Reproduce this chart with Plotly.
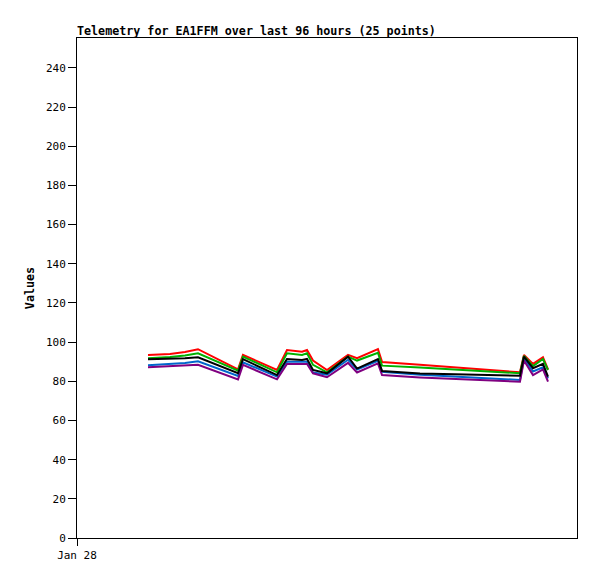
import plotly.graph_objects as go

times = [
    "2024-01-28 13:38", "2024-01-28 17:51", "2024-01-28 20:44", "2024-01-28 23:14",
    "2024-01-29 06:55", "2024-01-29 07:52", "2024-01-29 14:24", "2024-01-29 16:19",
    "2024-01-29 19:12", "2024-01-29 20:10", "2024-01-29 21:19", "2024-01-30 00:00",
    "2024-01-30 04:02", "2024-01-30 05:46", "2024-01-30 09:47", "2024-01-30 10:34",
    "2024-01-30 17:51", "2024-01-31 00:35", "2024-01-31 07:18", "2024-01-31 11:08",
    "2024-01-31 13:03", "2024-01-31 13:49", "2024-01-31 15:33", "2024-01-31 17:28",
    "2024-01-31 18:26",
]

red = [93.4, 94.0, 95.0, 96.4, 86.1, 93.5, 85.8, 96.0, 95.1, 96.0, 90.6, 85.8,
       93.5, 91.8, 96.4, 89.9, 88.4, 87.1, 85.7, 85.0, 84.6, 93.5, 88.9, 92.3, 86.1]
green = [91.8, 92.4, 93.2, 94.3, 85.4, 92.6, 84.6, 94.3, 93.5, 94.3, 88.4, 84.6,
         92.6, 90.6, 94.6, 88.0, 87.0, 86.0, 85.0, 84.4, 84.1, 93.0, 87.8, 91.4, 85.8]
black = [91.3, 91.4, 91.8, 92.3, 84.1, 91.3, 83.2, 91.4, 90.9, 91.4, 85.8, 84.1,
         92.6, 86.5, 91.3, 85.3, 84.0, 83.6, 83.2, 83.0, 82.9, 92.6, 86.7, 88.9, 82.4]
blue = [88.2, 88.7, 89.3, 90.2, 82.7, 89.7, 82.4, 90.0, 90.0, 90.0, 84.5, 83.4,
        91.0, 86.0, 90.5, 84.8, 83.3, 82.3, 81.5, 81.0, 80.7, 91.8, 85.0, 87.2, 81.5]
purple = [87.2, 87.8, 88.0, 88.4, 81.0, 88.4, 81.0, 88.9, 88.9, 88.9, 84.1, 82.1,
          89.4, 84.5, 89.2, 83.2, 82.0, 81.3, 80.5, 80.0, 79.8, 90.6, 83.2, 86.1, 79.8]

series = [
    ("red", red, "#ff0000"),
    ("green", green, "#00b000"),
    ("blue", blue, "#0066cc"),
    ("purple", purple, "#800080"),
    ("black", black, "#000000"),
]

y_ticks = list(range(0, 241, 20))
x_tick_vals = ["2024-01-28 00:00"]
x_tick_text = ["Jan 28"]
x_range = ["2024-01-28 00:00", "2024-02-01 00:00"]

fig = go.Figure()
for name, vals, col in series:
    fig.add_trace(go.Scatter(x=times, y=vals, mode="lines", name=name,
                             line=dict(color=col, width=2), hoverinfo="skip"))

mono = "DejaVu Sans Mono"
fig.update_layout(
    width=597, height=579,
    margin=dict(l=77, r=20, t=38, b=41, autoexpand=False),
    paper_bgcolor="white", plot_bgcolor="white",
    showlegend=False,
    font=dict(family=mono, size=11, color="black"),
    title=dict(text="<b>Telemetry for EA1FFM over last 96 hours (25 points)</b>",
               font=dict(family=mono, size=11.7, color="black"),
               x=77 / 597, xanchor="left", xref="container",
               y=1 - 31 / 579, yanchor="middle", yref="container",
               automargin=False),
)
fig.update_xaxes(type="date", range=x_range, tickvals=x_tick_vals, ticktext=x_tick_text,
                 showgrid=False, zeroline=False, showline=True, linecolor="black",
                 linewidth=1, mirror=True, ticks="outside", ticklen=7,
                 tickcolor="black", tickfont=dict(family=mono, size=11),
                 automargin=False)
fig.update_yaxes(range=[0, 255.3], tickvals=y_ticks, showgrid=False, zeroline=False,
                 showline=True, linecolor="black", linewidth=1, mirror=True,
                 ticks="outside", ticklen=8, tickcolor="black", ticksuffix=" ",
                 tickfont=dict(family=mono, size=11), automargin=False,
                 title=dict(text="<b>Values</b>", font=dict(family=mono, size=11.7),
                            standoff=8))

fig.write_html("out.html", config={"displayModeBar": False},
               post_script="document.body.style.margin='0';")
